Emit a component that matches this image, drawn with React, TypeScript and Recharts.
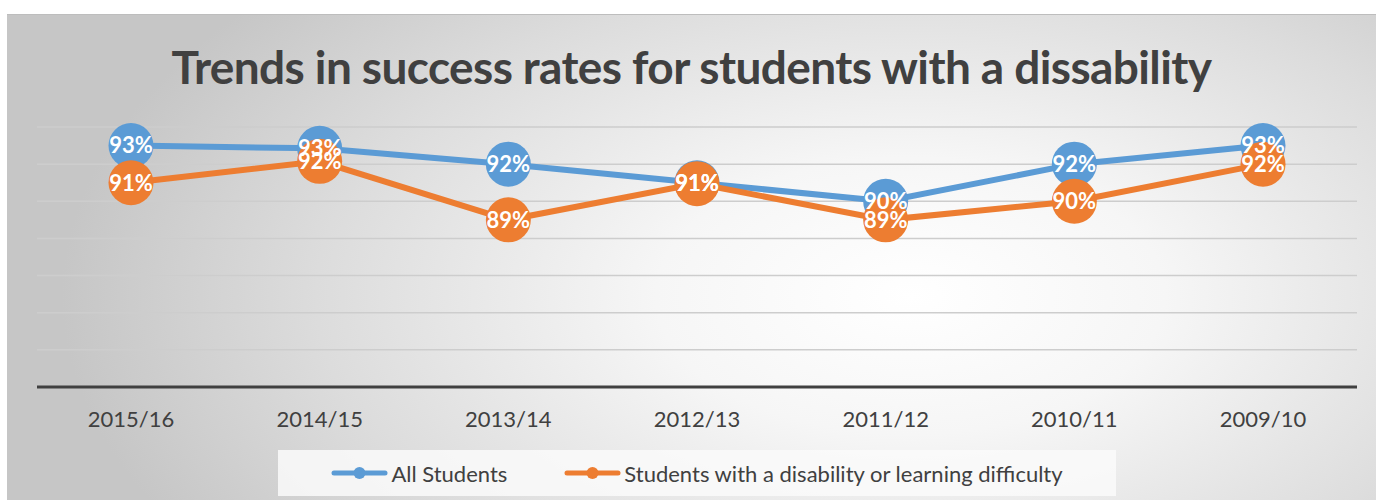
import { LineChart, Line, XAxis, YAxis, CartesianGrid, Legend, LabelList } from 'recharts'

const years = ['2015/16', '2014/15', '2013/14', '2012/13', '2011/12', '2010/11', '2009/10']
const allStudents = [93.0, 92.85, 92.0, 91.0, 90.0, 92.0, 93.0]
const disability = [91.0, 92.15, 89.0, 90.95, 89.0, 90.0, 92.0]
const yTicks = [80, 82, 84, 86, 88, 90, 92, 94]

const BLUE = '#5B9BD5'
const ORANGE = '#ED7D31'
const FONT = 'Lato, "Open Sans", sans-serif'

const seriesInfo = [
  { key: 'all', name: 'All Students', color: BLUE },
  { key: 'dis', name: 'Students with a disability or learning difficulty', color: ORANGE },
]

const data = years.map((year, i) => ({ year, all: allStudents[i], dis: disability[i] }))

const pct = (v: any) => `${Math.round(Number(v))}%`

const labelStyle = { fill: '#fff', fontSize: 22, fontWeight: 700, fontFamily: FONT }

const LegendBox = () => (
  <div
    style={{
      width: '100%',
      height: '100%',
      background: 'rgba(250,250,250,0.85)',
      display: 'flex',
      alignItems: 'center',
      justifyContent: 'center',
      gap: 57,
      fontFamily: FONT,
      fontSize: 22,
      color: '#404040',
    }}
  >
    {seriesInfo.map(s => (
      <div key={s.key} style={{ display: 'flex', alignItems: 'center' }}>
        <svg width={57} height={14} style={{ marginRight: 3 }}>
          <line x1={3} x2={54} y1={7} y2={7} stroke={s.color} strokeWidth={5} strokeLinecap="round" />
          <circle cx={28.5} cy={7} r={6} fill={s.color} />
        </svg>
        <span>{s.name}</span>
      </div>
    ))}
  </div>
)

export default function App() {
  return (
    <div
      style={{
        position: 'absolute',
        left: 7,
        top: 14,
        width: 1369,
        height: 486,
        background: 'radial-gradient(ellipse 62% 95% at 66% 58%, #ffffff 0%, #f6f6f6 30%, #dcdcdc 70%, #c6c6c6 100%)',
        boxShadow: 'inset 0 1px 0 #bdbdbd',
        overflow: 'hidden',
      }}
    >
      <div
        style={{
          position: 'absolute',
          top: 25,
          left: 0,
          width: '100%',
          textAlign: 'center',
          fontFamily: FONT,
          fontWeight: 700,
          fontSize: 46,
          color: '#404040',
          letterSpacing: -0.6,
        }}
      >
        Trends in success rates for students with a dissability
      </div>
      <LineChart width={1369} height={486} data={data} margin={{ top: 113, right: 19, bottom: 73, left: 30 }}>
        <CartesianGrid horizontal vertical={false} stroke="#cdcdcd" strokeWidth={1.5} />
        <XAxis
          dataKey="year"
          height={40}
          padding={{ left: 94, right: 94 }}
          axisLine={{ stroke: '#404040', strokeWidth: 3 }}
          tickLine={false}
          tickSize={0}
          tickMargin={24}
          tick={{ fill: '#404040', fontSize: 22, fontFamily: FONT }}
        />
        <YAxis hide domain={[80, 94]} ticks={yTicks} />
        <Line dataKey="all" name="All Students" stroke={BLUE} strokeWidth={6} isAnimationActive={false}
          dot={{ r: 22.5, fill: BLUE, stroke: BLUE, strokeWidth: 0 }} activeDot={false} />
        <Line dataKey="dis" name="Students with a disability or learning difficulty" stroke={ORANGE} strokeWidth={6}
          isAnimationActive={false} dot={{ r: 22.5, fill: ORANGE, stroke: ORANGE, strokeWidth: 0 }} activeDot={false} />
        {/* labels drawn last so the blue ones sit above the orange markers */}
        <Line dataKey="all" stroke="none" dot={false} activeDot={false} legendType="none" isAnimationActive={false}>
          <LabelList dataKey="all" position="center" formatter={pct} style={labelStyle} />
        </Line>
        <Line dataKey="dis" stroke="none" dot={false} activeDot={false} legendType="none" isAnimationActive={false}>
          <LabelList dataKey="dis" position="center" formatter={pct} style={labelStyle} />
        </Line>
        <Legend
          layout="horizontal"
          verticalAlign="middle"
          align="center"
          wrapperStyle={{ top: 436, left: 271, width: 838, height: 46 }}
          content={() => <LegendBox />}
        />
      </LineChart>
    </div>
  )
}
